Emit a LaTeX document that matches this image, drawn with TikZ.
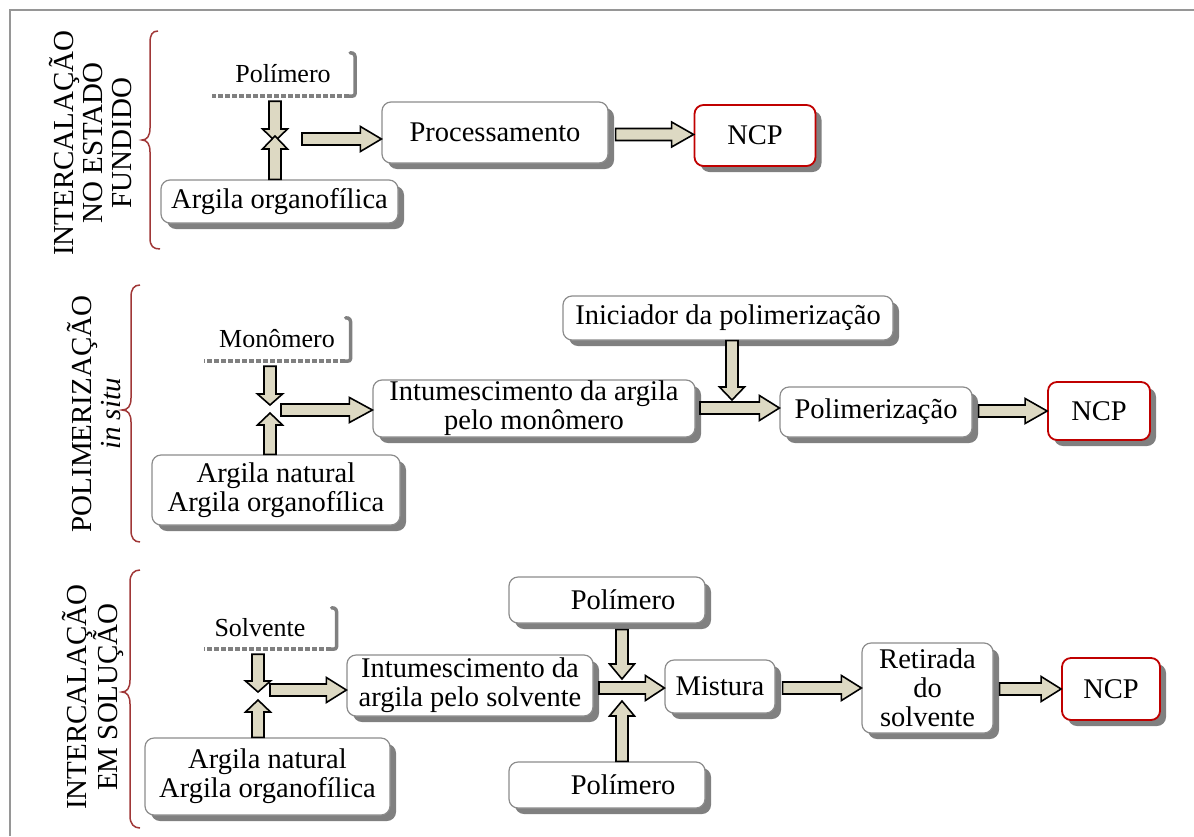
\documentclass[tikz,border=0pt]{standalone}
\usepackage{fontspec}
\setmainfont{Liberation Serif}
\usetikzlibrary{calc,shadows}

\definecolor{arrowfill}{RGB}{221,217,195}
\definecolor{boxline}{RGB}{140,140,140}
\definecolor{shadowgray}{RGB}{128,128,128}
\definecolor{ncpred}{RGB}{192,0,0}
\definecolor{bracecol}{RGB}{160,55,55}
\definecolor{framegray}{RGB}{150,150,150}

\newcommand\boxfont{\fontsize{28.5}{29}\selectfont}
\newcommand\tornfont{\fontsize{26}{28}\selectfont}
\newcommand\sidefont{\fontsize{29}{29}\selectfont}

\tikzset{
  box/.style={draw=boxline, line width=1.2pt, fill=white, rounded corners=9pt,
    align=center, font=\boxfont, inner sep=0pt,
    drop shadow={shadow xshift=6pt, shadow yshift=-6pt, fill=shadowgray, opacity=1}},
  ncpbox/.style={box, draw=ncpred, line width=1.8pt},
  tornbox/.style={fill=white, inner sep=0pt, font=\tornfont},
  tornedge/.style={draw=shadowgray, line width=3.5pt},
  boxlabel/.style={font=\boxfont, inner sep=0pt},
  tornlabel/.style={font=\tornfont, inner sep=0pt},
  blockarrow/.style={draw=black, line width=1.6pt, fill=arrowfill, line join=miter},
  bracket/.style={draw=bracecol, line width=1.5pt},
  sidelabel/.style={rotate=90, align=center, font=\sidefont, inner sep=0pt},
}

% block arrow: [head length]{start}{tip}
\newcommand\blockarrow[3][18]{%
  \coordinate (ba-s) at (#2);
  \coordinate (ba-e) at (#3);
  \coordinate (ba-n) at ($(ba-e)!#1pt!(ba-s)$);
  \draw[blockarrow] ($(ba-s)!6pt!90:(ba-e)$) -- ($(ba-n)!6pt!90:(ba-e)$)
    -- ($(ba-n)!12.5pt!90:(ba-e)$) -- (ba-e) -- ($(ba-n)!12.5pt!-90:(ba-e)$)
    -- ($(ba-n)!6pt!-90:(ba-e)$) -- ($(ba-s)!6pt!-90:(ba-e)$) -- cycle;
}

% shaded right and ragged bottom edge of a borderless label box
\newcommand\tornedge[1]{%
  \draw[tornedge, line cap=round] ($(#1.north east)+(-4,0)$)
    .. controls ($(#1.north east)+(0,0)$) and ($(#1.north east)+(1,2)$) .. ($(#1.north east)+(1,6)$)
    -- ($(#1.south east)+(1,-4)$)
    .. controls ($(#1.south east)+(1,1)$) and ($(#1.south east)+(0,1)$) .. ($(#1.south east)+(-5,1)$);
  \draw[tornedge, dash pattern=on 5pt off 2pt] ($(#1.south east)+(-5,1)$) -- ($(#1.south west)+(0,1)$);
}

\begin{document}
\begin{tikzpicture}[x=1pt, y=-1pt]
\useasboundingbox (0,0) rectangle (1194,836);

% outer frame
\draw[framegray, line width=1.5pt] (10,836) -- (10,10) -- (1194,10);

% ---------- melt intercalation ----------
\node[sidelabel] (lab1) at (91,143) {INTERCALAÇÃO\\NO ESTADO\\FUNDIDO};
\draw[bracket] (158,31) .. controls (152,31) and (150,35) .. (150,43) -- (150,128)
  .. controls (150,136) and (147,140) .. (142,140)
  .. controls (147,140) and (150,144) .. (150,152) -- (150,238)
  .. controls (150,246) and (153,249) .. (160,249);

\node[tornbox, minimum width=142pt, minimum height=42pt] (poly1) at (283,74) {Polímero};
\node[box, minimum width=237pt, minimum height=43pt] (arg1) at (279.5,201.5) {Argila organofílica};
\node[box, minimum width=226pt, minimum height=61pt] (proc) at (495,132.5) {Processamento};
\node[ncpbox, minimum width=121pt, minimum height=61pt] (ncp1) at (755,135.5) {NCP};
\tornedge{poly1}

\coordinate (j1d) at (275,141);
\coordinate (j1u) at (275,136);
\coordinate (j1h) at (302,139);
\coordinate (j1n) at ($(proc.east)+(7,2)$);
\blockarrow[12]{$(j1d |- poly1.south)+(0,6)$}{j1d}
\blockarrow[13]{j1u |- arg1.north}{j1u}
\blockarrow[21]{j1h}{proc.west |- j1h}
\blockarrow[22]{j1n}{ncp1.west |- j1n}

% ---------- in situ polymerization ----------
\node[sidelabel] (lab2) at (94,414) {POLIMERIZAÇÃO\\\textit{in situ}};
\draw[bracket] (140,285) .. controls (134,285) and (131,289) .. (131,297) -- (131,398)
  .. controls (131,406) and (128,410) .. (122,410)
  .. controls (128,410) and (131,414) .. (131,422) -- (131,530)
  .. controls (131,538) and (134,542) .. (140,542);

\node[tornbox, minimum width=145pt, minimum height=42pt] (mono) at (277,339) {Monômero};
\node[box, minimum width=248pt, minimum height=70pt] (arg2) at (276,490) {Argila natural\\Argila organofílica};
\node[box, minimum width=322pt, minimum height=57pt] (intu2) at (534,408.5) {Intumescimento da argila\\pelo monômero};
\node[box, minimum width=330pt, minimum height=44pt] (inic) at (728,318) {Iniciador da polimerização};
\node[box, minimum width=192pt, minimum height=50pt] (polz) at (876,412) {Polimerização};
\node[ncpbox, minimum width=102pt, minimum height=58pt] (ncp2) at (1099,411) {NCP};
\tornedge{mono}

\coordinate (j2d) at (270,405);
\coordinate (j2u) at (270,413);
\coordinate (j2h) at (281,410);
\coordinate (j2i) at (732,400);
\coordinate (j2p) at (700,408);
\coordinate (j2n) at ($(polz.east)+(6,-1)$);
\blockarrow[11]{$(j2d |- mono.south)+(0,6)$}{j2d}
\blockarrow[12]{j2u |- arg2.north}{j2u}
\blockarrow[23]{j2h}{intu2.west |- j2h}
\blockarrow[13]{j2i |- inic.south}{j2i}
\blockarrow[20]{j2p}{polz.west |- j2p}
\blockarrow[22]{j2n}{ncp2.west |- j2n}

% ---------- solution intercalation ----------
\node[sidelabel] (lab3) at (93,697) {INTERCALAÇÃO\\EM SOLUÇÃO};
\draw[bracket] (140,570) .. controls (134,570) and (130,574) .. (130,582) -- (130,680)
  .. controls (130,688) and (127,692) .. (122,692)
  .. controls (127,692) and (130,696) .. (130,704) -- (130,816)
  .. controls (130,824) and (134,828) .. (140,828);

\node[tornbox, minimum width=131pt, minimum height=40pt,
  label={[tornlabel, xshift=-10pt]center:Solvente}] (solv) at (270,628) {};
\node[box, minimum width=245pt, minimum height=77pt] (arg3) at (267.5,776.5) {Argila natural\\Argila organofílica};
\node[box, minimum width=246pt, minimum height=61pt] (intu3) at (470,685.5) {Intumescimento da\\argila pelo solvente};
\node[box, minimum width=196pt, minimum height=46pt,
  label={[boxlabel, xshift=16pt]center:Polímero}] (polA) at (607,600) {};
\node[box, minimum width=196pt, minimum height=46pt,
  label={[boxlabel, xshift=16pt]center:Polímero}] (polB) at (607,785) {};
\node[box, minimum width=110pt, minimum height=53pt] (mist) at (720,686.5) {Mistura};
\node[box, minimum width=131pt, minimum height=90pt] (reti) at (927.5,688) {Retirada\\do\\solvente};
\node[ncpbox, minimum width=98pt, minimum height=62pt] (ncp3) at (1111,689) {NCP};
\tornedge{solv}

\coordinate (j3d) at (258,692);
\coordinate (j3u) at (258,700);
\coordinate (j3h) at (270,690);
\coordinate (j3a) at (622,679);
\coordinate (j3b) at (622,701);
\coordinate (j3m) at (599,688);
\coordinate (j3r) at ($(reti.east)+(6,1)$);
\blockarrow[11]{$(j3d |- solv.south)+(0,6)$}{j3d}
\blockarrow[12]{j3u |- arg3.north}{j3u}
\blockarrow[20]{j3h}{intu3.west |- j3h}
\blockarrow[15]{$(j3a |- polA.south)+(0,6)$}{j3a}
\blockarrow[15]{j3b |- polB.north}{j3b}
\blockarrow[19]{j3m}{mist.west |- j3m}
\blockarrow[20]{$(mist.east |- j3m)+(7,0)$}{reti.west |- j3m}
\blockarrow[20]{j3r}{ncp3.west |- j3r}
\end{tikzpicture}
\end{document}
